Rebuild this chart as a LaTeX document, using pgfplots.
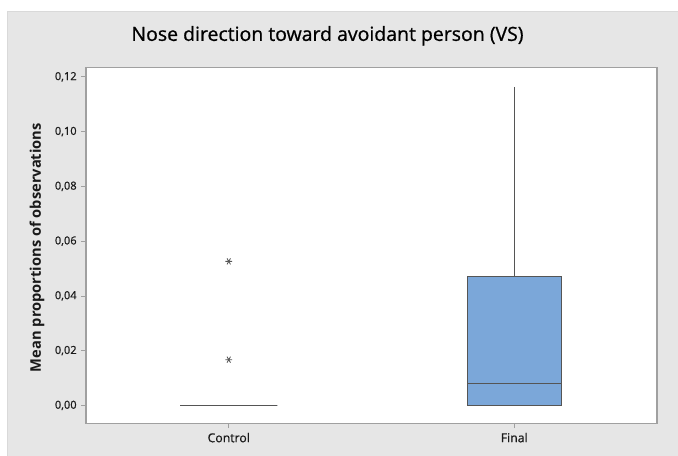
\documentclass[border=0pt]{standalone}
\usepackage{fontspec}
\setmainfont{Open Sans}
\newfontfamily\semib{Open Sans}[FakeBold=0.8]
\usepackage{pgfplots}
\pgfplotsset{compat=1.18}
\usepgfplotslibrary{statistics}
\definecolor{bggray}{HTML}{E6E6E6}
\definecolor{framegray}{HTML}{A0A0A0}
\definecolor{boxblue}{HTML}{7BA7D9}
\definecolor{boxline}{HTML}{555555}
\definecolor{txt}{HTML}{1A1A1A}
\begin{document}
\begin{tikzpicture}
\useasboundingbox (0,0) rectangle (508.5pt,342pt);
\fill[white] (0,0) rectangle (508.5pt,342pt);
\fill[bggray] (5.25pt,0) rectangle (508.5pt,333.75pt);
\draw[black!15,line width=0.5pt] (5.25pt,0) -- (5.25pt,333.75pt) -- (508.5pt,333.75pt);
\fill[white] (64.5pt,24.375pt) rectangle ++(428.25pt,267pt);
\begin{axis}[
  at={(64.5pt,24.375pt)}, anchor=south west,
  scale only axis, width=428.25pt, height=267pt,
  xmin=0.5, xmax=2.5, ymin=-0.0066, ymax=0.1234,
  axis line style={framegray, line width=0.8pt},
  xtick={1,2}, xticklabels={Control,Final},
  ytick={0,0.02,0.04,0.06,0.08,0.10,0.12},
  xtick pos=bottom, ytick pos=left,
  tick align=outside, major tick length=3.5pt,
  tick style={framegray, line width=0.5pt},
  yticklabel style={font=\semib\fontsize{8.3}{10}\selectfont, text=txt,
    /pgf/number format/fixed, /pgf/number format/fixed zerofill,
    /pgf/number format/precision=2, /pgf/number format/use comma,
    /pgf/number format/assume math mode=true},
  xticklabel style={font=\semib\fontsize{9.2}{11}\selectfont, text=txt},
  every axis title shift=0pt,
  title={Nose direction toward avoidant person (VS)},
  title style={font=\semib\fontsize{14.6}{17}\selectfont, text=black, at={(rel axis cs:0.423,1.089)}, anchor=center},
  ylabel={\bfseries Mean proportions of observations},
  ylabel style={font=\fontsize{11}{13}\selectfont, text=txt, at={(rel axis cs:-0.0858,0.494)}, anchor=center},
  boxplot/draw direction=y,
]
% Control: all zero except two outliers
\addplot+[boxplot prepared={draw position=1, lower whisker=0, lower quartile=0, median=0, upper quartile=0, upper whisker=0, box extend=0.34, whisker extend=0},
  draw=boxline, line width=1.2pt, fill=boxblue, solid,
  mark=asterisk, mark size=2.6pt, mark options={boxline, line width=0.6pt, rotate=90}]
  table[row sep=\\, y index=0] {y\\ 0.0526\\ 0.0167\\};
% Final
\addplot+[boxplot prepared={draw position=2, lower whisker=0, lower quartile=0, median=0.0080, upper quartile=0.0472, upper whisker=0.1163, box extend=0.33, whisker extend=0},
  draw=boxline, line width=0.9pt, fill=boxblue, solid]
  coordinates {};
\end{axis}
\end{tikzpicture}
\end{document}
